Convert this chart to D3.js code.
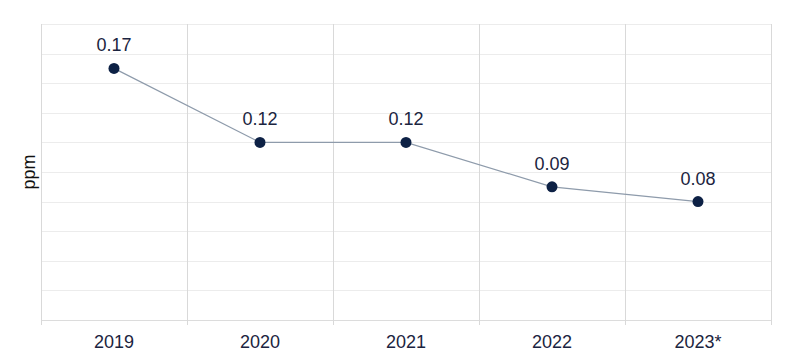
<!DOCTYPE html>
<html><head><meta charset="utf-8">
<script src="https://cdn.jsdelivr.net/npm/d3@7"></script>
<style>body{margin:0;background:#fff;} text{font-family:"Liberation Sans",Arial,sans-serif;}</style>
</head><body>
<svg id="c" width="800" height="358"></svg>
<script>
const categories = ["2019","2020","2021","2022","2023*"];
const values = [0.17, 0.12, 0.12, 0.09, 0.08];
const yTicks = [0,0.02,0.04,0.06,0.08,0.10,0.12,0.14,0.16,0.18,0.20];
const yLabel = "ppm";

const svg = d3.select("#c");
const m = {l:41, r:29, t:24, b:38};
const W = 800, H = 358;
const x = d3.scaleBand().domain(categories).range([m.l, W-m.r]);
const y = d3.scaleLinear().domain([0,0.2]).range([H-m.b, m.t]);

// horizontal gridlines
svg.append("g").selectAll("line").data(yTicks).join("line")
  .attr("x1", m.l).attr("x2", W-m.r)
  .attr("y1", d=>Math.round(y(d))+0.5).attr("y2", d=>Math.round(y(d))+0.5)
  .attr("stroke", d=> d===0 ? "#dcdcdc" : "#ececec").attr("stroke-width",1);

// vertical band boundaries
const bounds = categories.map(c=>x(c)).concat([x(categories[categories.length-1])+x.bandwidth()]);
svg.append("g").selectAll("line").data(bounds).join("line")
  .attr("x1", d=>Math.round(d)+0.5).attr("x2", d=>Math.round(d)+0.5)
  .attr("y1", m.t).attr("y2", H-m.b+5)
  .attr("stroke","#d9d9d9").attr("stroke-width",1);

// x axis labels
const xAxis = d3.axisBottom(x).tickSize(0).tickPadding(0);
const gx = svg.append("g").attr("transform",`translate(0,${H-m.b})`).call(xAxis);
gx.select(".domain").remove();
gx.selectAll("text").attr("font-size",18).attr("fill","#1b2440").attr("dy",null).attr("y",28)
  .style("font-family","'Liberation Sans',Arial,sans-serif");

// y label
svg.append("text").attr("transform",`translate(35,${(m.t+H-m.b)/2}) rotate(-90)`)
  .attr("text-anchor","middle").attr("font-size",18).attr("fill","#111").text(yLabel);

const cx = d=>x(d)+x.bandwidth()/2;
const data = categories.map((c,i)=>({c, v:values[i]}));

svg.append("path").datum(data)
  .attr("d", d3.line().x(d=>cx(d.c)).y(d=>y(d.v)))
  .attr("fill","none").attr("stroke","#8e9bab").attr("stroke-width",1.2);

svg.append("g").selectAll("circle").data(data).join("circle")
  .attr("cx", d=>cx(d.c)).attr("cy", d=>y(d.v)).attr("r",5.5).attr("fill","#0d2145");

svg.append("g").selectAll("text").data(data).join("text")
  .attr("x", d=>cx(d.c)).attr("y", d=>y(d.v)-17)
  .attr("text-anchor","middle").attr("font-size",18).attr("fill","#1b2440")
  .text(d=>d.v.toFixed(2));
</script>
</body></html>
